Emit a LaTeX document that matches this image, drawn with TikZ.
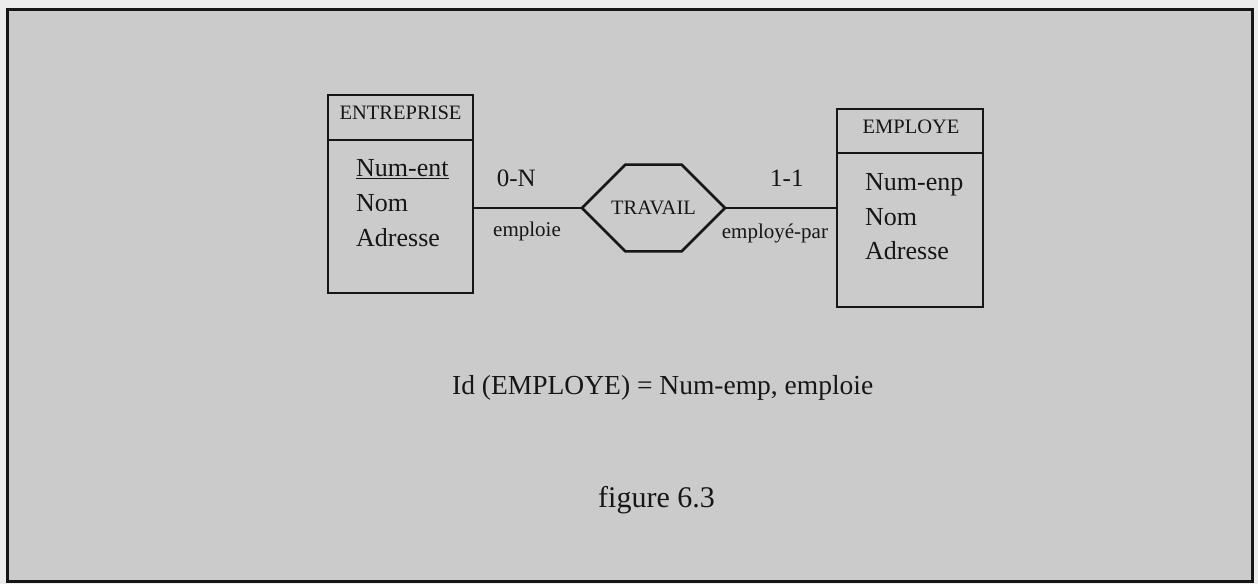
\documentclass[tikz,border=0pt]{standalone}
\usepackage{fontspec}
\setmainfont{Liberation Serif}
\usetikzlibrary{shapes.misc}
\definecolor{paper}{RGB}{203,203,203}
\definecolor{margin}{RGB}{236,236,236}
\definecolor{ink}{RGB}{22,22,22}
\begin{document}
\begin{tikzpicture}[x=1pt,y=-1pt,
  txt/.style={inner sep=0pt, text=ink},
  title/.style={txt, font=\fontsize{20.5}{24}\selectfont, anchor=base},
  attr/.style={txt, font=\fontsize{26}{30}\selectfont, anchor=base west},
  card/.style={txt, font=\fontsize{25}{30}\selectfont, anchor=base west},
  role/.style={txt, font=\fontsize{21}{24}\selectfont, anchor=base west},
  entity/.style={draw=ink, line width=2pt, inner sep=0pt},
  relation/.style={draw=ink, line width=2.5pt, inner sep=0pt, text=ink,
    font=\fontsize{20.5}{24}\selectfont,
    chamfered rectangle, chamfered rectangle xsep=33pt,
    chamfered rectangle ysep=36.4pt,
    minimum width=143pt, minimum height=73pt},
  link/.style={draw=ink, line width=2pt},
  keyline/.style={draw=ink, line width=1.8pt},
]
\useasboundingbox (0,0) rectangle (1258,584);
% sheet and its frame
\fill[margin] (0,0) rectangle (1258,584);
\draw[fill=paper, draw=ink, line width=3pt] (7.5,9.5) rectangle (1252,581.5);

% entity ENTREPRISE
\node[entity, minimum width=145pt, minimum height=198pt] (ent) at (400.5,194) {};
\coordinate (entdiv) at (0,140);
\draw[entity] (ent.west |- entdiv) -- (ent.east |- entdiv);
\node[title] (entname) at (400.5,119.3) {ENTREPRISE};
\node[attr] (entid) at (356,176) {Num-ent};
\draw[keyline] ([yshift=-2.5pt]entid.base west) -- ([yshift=-2.5pt]entid.base east);
\node[attr] (entnom) at (356,211.5) {Nom};
\node[attr] (entadr) at (356,246.5) {Adresse};

% entity EMPLOYE
\node[entity, minimum width=146pt, minimum height=198pt] (emp) at (910,208) {};
\coordinate (empdiv) at (0,153);
\draw[entity] (emp.west |- empdiv) -- (emp.east |- empdiv);
\node[title] (empname) at (911,133.3) {EMPLOYE};
\node[attr] (empid) at (865,190.7) {Num-enp};
\node[attr] (empnom) at (865,225) {Nom};
\node[attr] (empadr) at (865,259) {Adresse};

% relationship TRAVAIL
\node[relation] (rel) at (653.5,208) {TRAVAIL};
\draw[link] (ent.east |- rel) -- (rel.west);
\draw[link] (rel.east) -- (emp.west);

% cardinalities and roles
\node[card] (card1) at (496.7,186) {0-N};
\node[role] (role1) at (493,236) {emploie};
\node[card] (card2) at (770,186) {1-1};
\node[role] (role2) at (721.7,238.3) {employé-par};

% identifier and caption
\node[txt, font=\fontsize{27.5}{32}\selectfont, anchor=base west] (ident) at (452,394.3) {Id (EMPLOYE) = Num-emp, emploie};
\node[txt, font=\fontsize{30}{34}\selectfont, anchor=base west] (caption) at (598,507.3) {figure 6.3};
\end{tikzpicture}
\end{document}
